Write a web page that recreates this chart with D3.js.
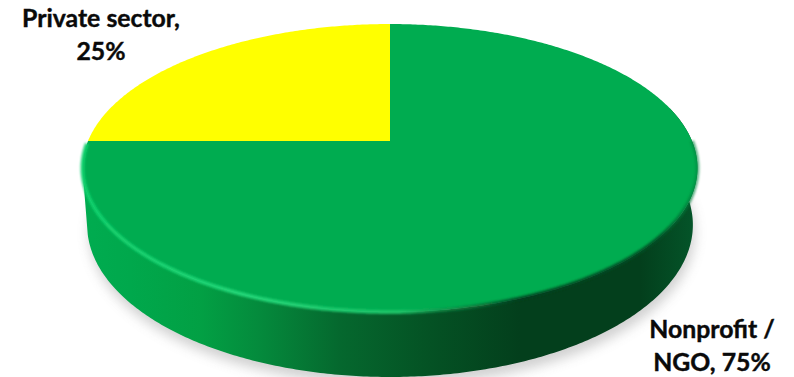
<!DOCTYPE html>
<html>
<head>
<meta charset="utf-8">
<script src="https://cdn.jsdelivr.net/npm/d3@7/dist/d3.min.js"></script>
<style>
html,body{margin:0;padding:0;background:#fff;overflow:hidden}
svg{display:block}
text{font-family:Lato,"Open Sans",sans-serif;font-weight:700;fill:#0a0a0a;stroke:#0a0a0a;stroke-width:0.4px}
</style>
</head>
<body>
<svg id="chart" width="794" height="377"></svg>
<script>
const categories = ["Nonprofit / NGO", "Private sector"];
const values = [75, 25];
const sliceColors = ["#00AC50", "#FFFF00"];
const labelFirstLineWords = [2, 2];
const labelCenters = [[712, 338], [101, 27]];
const wallStops = [
  [81, "#00AC50"], [130, "#00A84C"], [200, "#02A044"], [260, "#048A3C"],
  [340, "#05682E"], [430, "#045224"], [520, "#033F1C"], [640, "#033F1C"], [698, "#04562A"]
];
const rimStops = [
  [81, "#10D06C", 0.95], [250, "#22D678", 1], [400, "#1CC468", 0.95],
  [450, "#0F8F48", 0.7], [520, "#043F1E", 0.85], [660, "#045026", 0.9], [698, "#048A40", 0.6]
];

const width = 794, height = 377;
const svg = d3.select("#chart");

// Tilted disc: a unit circle pushed through a perspective map.
const tilt = 0.1875;
const topFace = {x: 390, y: 141, a: 302, b: 138.9};
const baseFace = {x: 390, y: 196.3, a: 297.5, b: 146.8};

function project(face, angle) {
  const w = 1 + tilt * Math.cos(angle);
  return [face.x + face.a * Math.sin(angle) / w, face.y - face.b * Math.cos(angle) / w];
}
function arcPoints(face, a0, a1) {
  const n = Math.max(2, Math.ceil(Math.abs(a1 - a0) / 0.01));
  return d3.range(n + 1).map(i => project(face, a0 + (a1 - a0) * i / n));
}
const line = d3.line();

const slices = d3.pie().sort(null).value(d => d)(values);
const green = slices[0];

const defs = svg.append("defs");
const xGrad = d3.scaleLinear().domain([0, width]).range([0, 100]);
function hGradient(id, stops) {
  const g = defs.append("linearGradient").attr("id", id)
    .attr("gradientUnits", "userSpaceOnUse")
    .attr("x1", 0).attr("x2", width).attr("y1", 0).attr("y2", 0);
  stops.forEach(s => g.append("stop")
    .attr("offset", xGrad(s[0]) + "%")
    .attr("stop-color", s[1])
    .attr("stop-opacity", s[2] === undefined ? 1 : s[2]));
}
hGradient("wallFill", wallStops);
hGradient("rimFill", rimStops);
defs.append("filter").attr("id", "soft").attr("x", "-10%").attr("y", "-20%").attr("width", "120%").attr("height", "140%")
  .append("feGaussianBlur").attr("stdDeviation", 6);
defs.append("filter").attr("id", "rimBlur").attr("filterUnits", "userSpaceOnUse")
  .attr("x", 0).attr("y", 0).attr("width", width).attr("height", height)
  .append("feGaussianBlur").attr("stdDeviation", 1.3);

// Soft shadow below the disc
svg.append("path")
  .attr("d", line(arcPoints(baseFace, 0, 2 * Math.PI)) + "Z")
  .attr("transform", "translate(2,8)")
  .attr("fill", "#9a9a9a").attr("opacity", 0.45)
  .attr("filter", "url(#soft)");

// Side wall: swept between the top rim and the base rim
const wallFrom = Math.PI * 0.42, wallTo = Math.PI * 1.42;
const topRim = arcPoints(topFace, wallFrom, wallTo);
const baseRim = arcPoints(baseFace, wallFrom, wallTo);
svg.append("path")
  .attr("d", line(topRim.concat(baseRim.slice().reverse())) + "Z")
  .attr("fill", "url(#wallFill)");

// Top face, one wedge per value
svg.append("g").selectAll("path").data(slices).join("path")
  .attr("d", d => line([[topFace.x, topFace.y]].concat(arcPoints(topFace, d.startAngle, d.endAngle))) + "Z")
  .attr("fill", (d, i) => sliceColors[i]);

// Bevel along the front of the green wedge
svg.append("path")
  .attr("d", line(arcPoints(topFace, Math.PI * 0.5, green.endAngle - 0.02)))
  .attr("fill", "none")
  .attr("stroke", "url(#rimFill)")
  .attr("stroke-width", 4)
  .attr("filter", "url(#rimBlur)");

// Value labels, wrapped onto two lines
const labels = svg.append("g").selectAll("text").data(categories).join("text")
  .attr("text-anchor", "middle")
  .attr("font-size", 24.8);
labels.each(function (c, i) {
  const words = `${c}, ${values[i]}%`.split(" ");
  const lines = [words.slice(0, labelFirstLineWords[i]).join(" "), words.slice(labelFirstLineWords[i]).join(" ")];
  d3.select(this).selectAll("tspan").data(lines).join("tspan")
    .attr("x", labelCenters[i][0])
    .attr("y", (d, j) => labelCenters[i][1] + j * 33)
    .text(d => d);
});
</script>
</body>
</html>
